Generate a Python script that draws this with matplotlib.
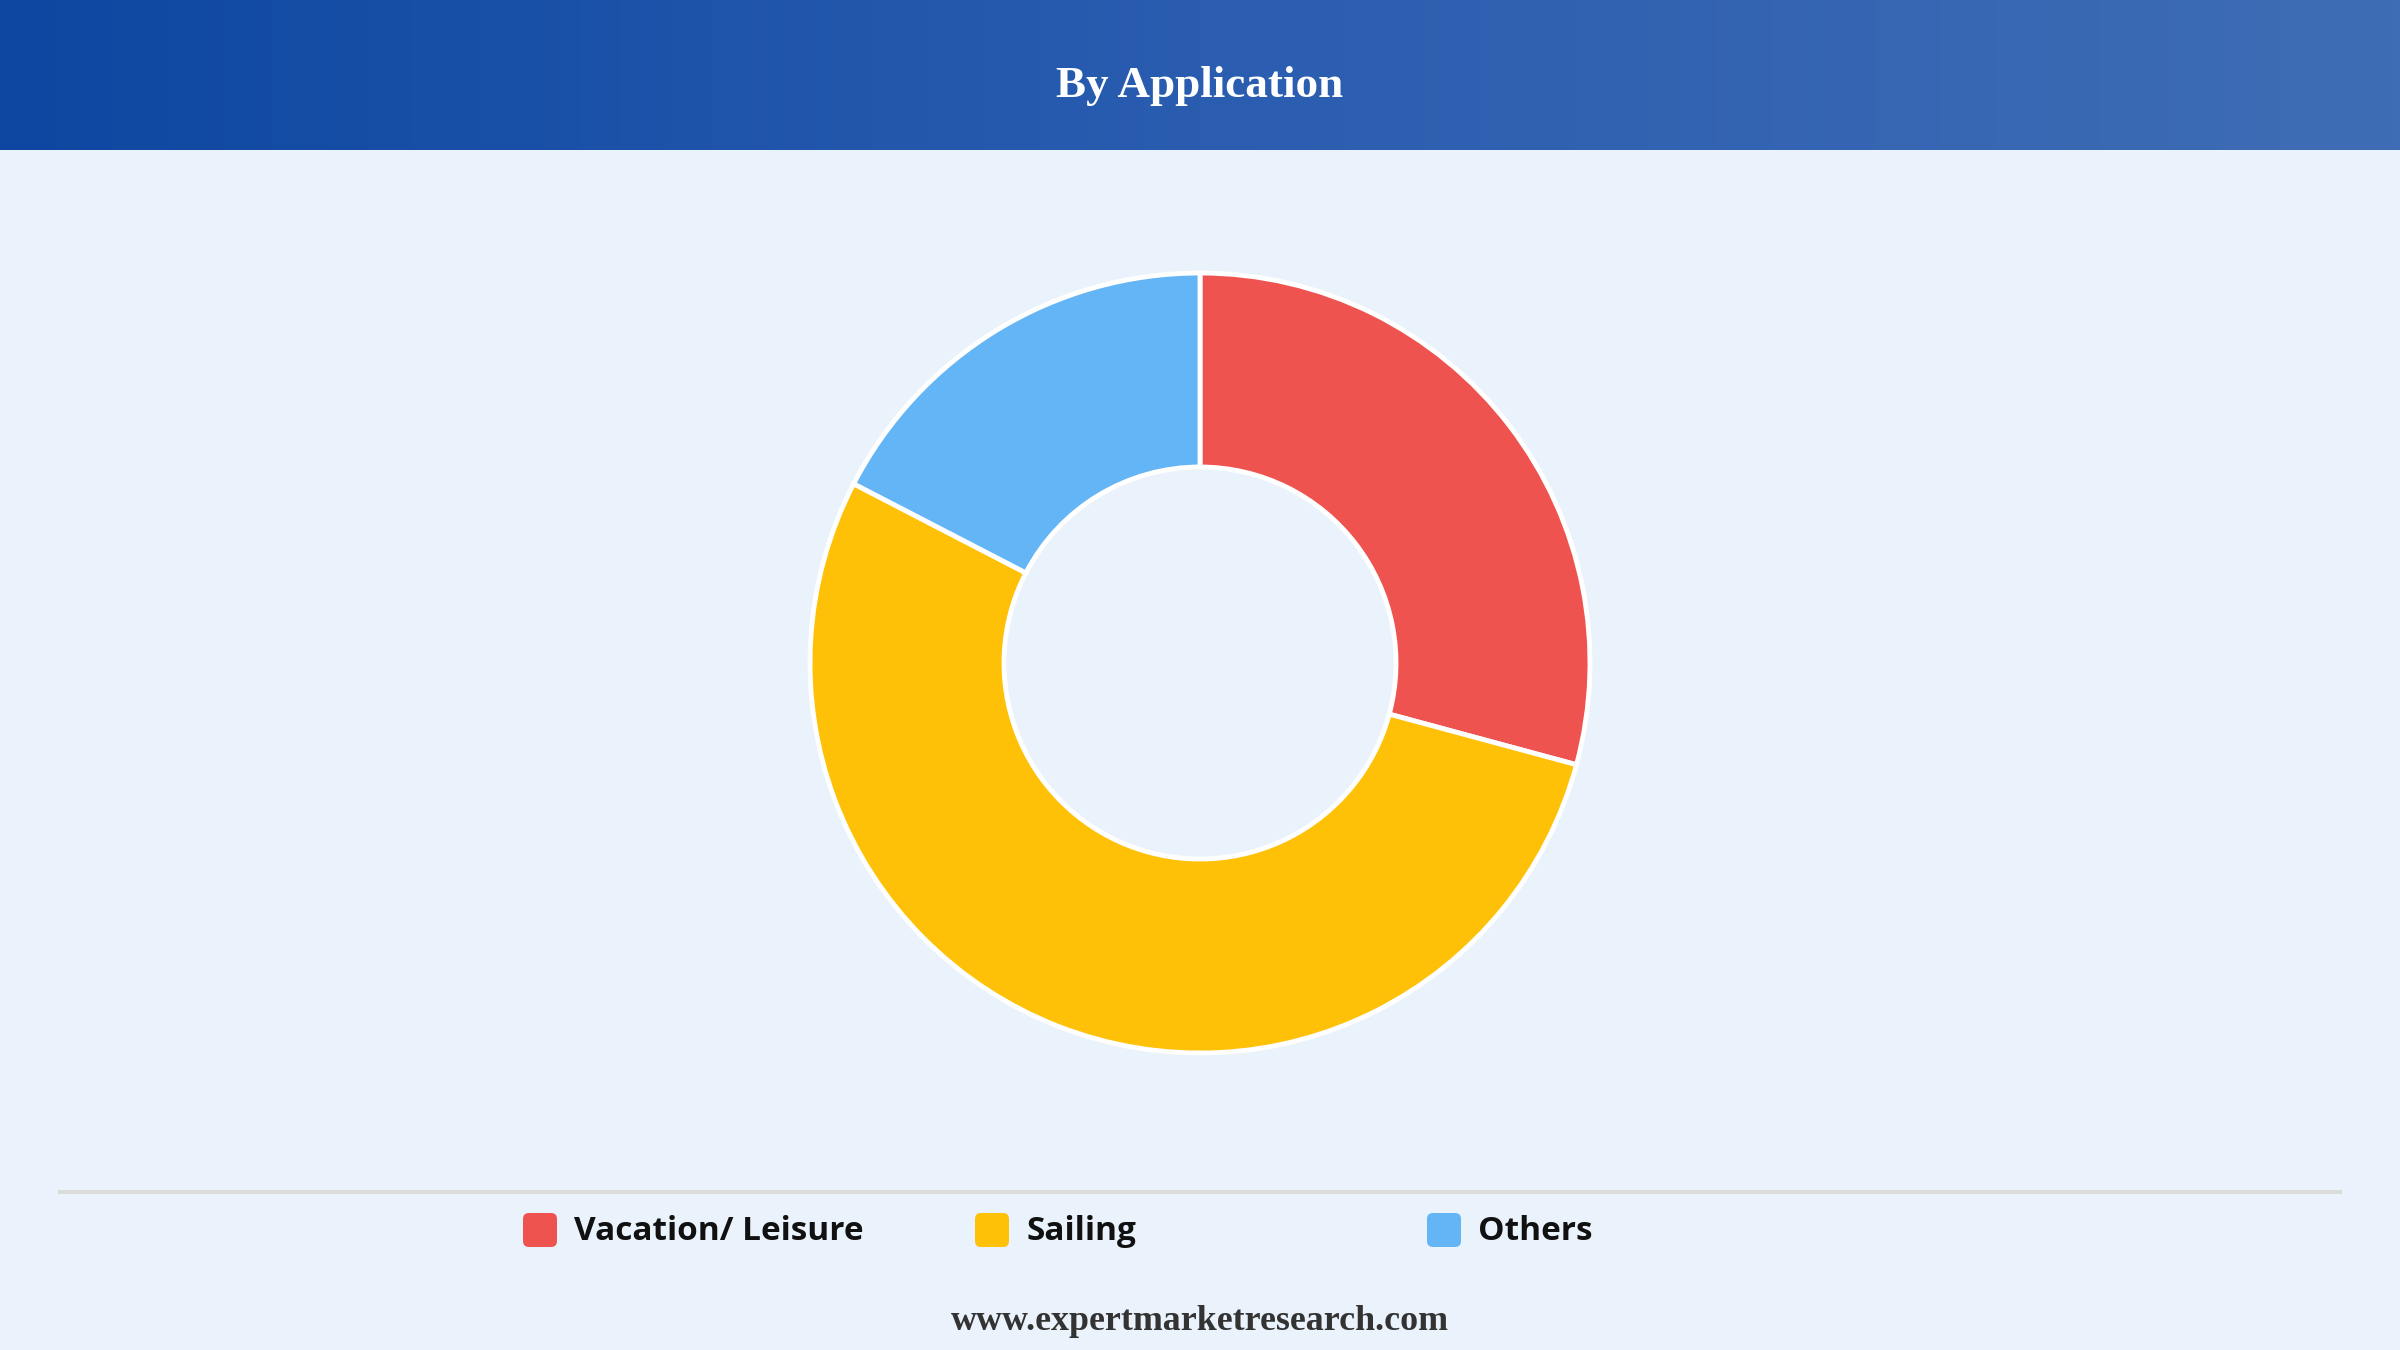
import numpy as np
import matplotlib
matplotlib.use('Agg')
import matplotlib.pyplot as plt
from matplotlib.patches import FancyBboxPatch
from matplotlib.colors import LinearSegmentedColormap

# data
categories = ['Vacation/ Leisure', 'Sailing', 'Others']
shares = [29.2, 53.4, 17.4]
colors = ['#ef5350', '#ffc107', '#64b5f6']

title = 'By Application'
footer = 'www.expertmarketresearch.com'

W, H = 2400, 1350
bg = '#eaf2fb'

fig = plt.figure(figsize=(24, 13.5), dpi=100, facecolor=bg)
ax = fig.add_axes([0, 0, 1, 1])
ax.set_facecolor(bg)

# header band with horizontal gradient
cmap = LinearSegmentedColormap.from_list('hdr', ['#0d47a1', '#2a5db0', '#3f6db5'])
grad = np.linspace(0, 1, 256).reshape(1, -1)
ax.imshow(grad, cmap=cmap, aspect='auto', extent=[0, W, H - 150, H], zorder=1)
ax.text(W / 2, H - 86, title, ha='center', va='center', color='white',
        fontsize=32.5, fontweight='bold', family='Liberation Serif', zorder=2)

# donut
ax.pie(shares, colors=colors, startangle=90, counterclock=False,
       center=(1200, H - 663), radius=390,
       wedgeprops=dict(width=194, edgecolor='white', linewidth=3.5))

ax.set_xlim(0, W)
ax.set_ylim(0, H)
ax.set_aspect('equal')
ax.axis('off')

# separator
ax.plot([60, 2340], [H - 1192, H - 1192], color='#dcdcdc', lw=3, zorder=1)

# legend
for i, (name, c) in enumerate(zip(categories, colors)):
    x0 = 523 + i * 452
    ax.add_patch(FancyBboxPatch((x0, H - 1230 - 17), 34, 34,
                                boxstyle='round,pad=0,rounding_size=6',
                                facecolor=c, edgecolor='none', zorder=3))
    ax.text(x0 + 51, H - 1232, name, ha='left', va='center', color='#111111',
            fontsize=24, fontweight='bold', family='Open Sans', zorder=3)

ax.text(W / 2, H - 1322, footer, ha='center', va='center', color='#333333',
        fontsize=25.8, fontweight='bold', family='Liberation Serif')

fig.savefig('out.png', dpi=100, facecolor=bg)
